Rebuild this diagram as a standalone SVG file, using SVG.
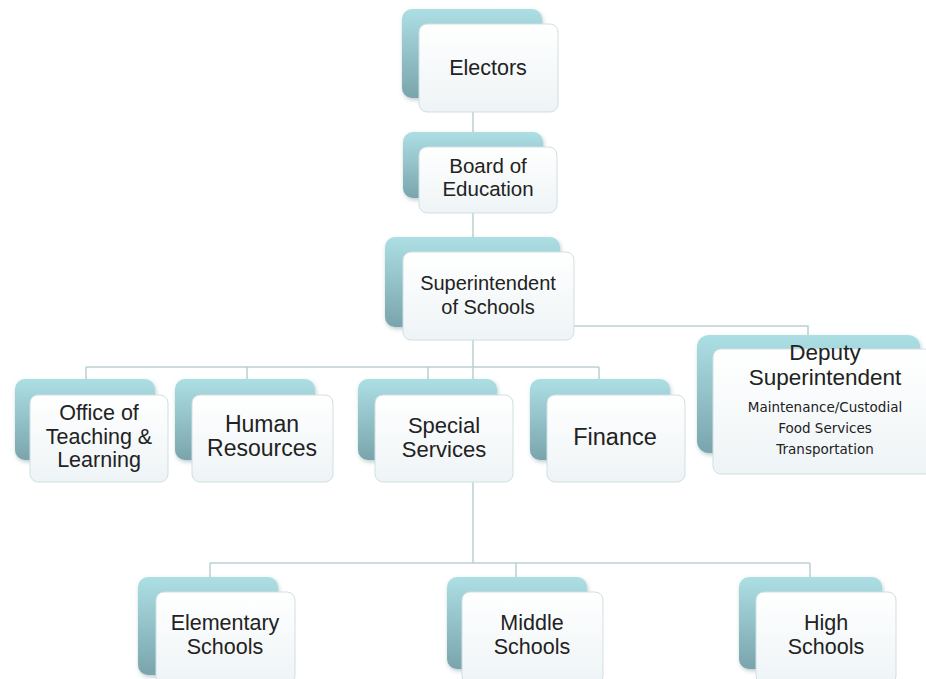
<svg xmlns="http://www.w3.org/2000/svg" width="926" height="679" viewBox="0 0 926 679">
<defs>
<linearGradient id="gb" x1="0" y1="0" x2="0" y2="1">
<stop offset="0" stop-color="#acdfe4"/>
<stop offset="1" stop-color="#7aa4ac"/>
</linearGradient>
<linearGradient id="gf" x1="0" y1="0" x2="0" y2="1">
<stop offset="0" stop-color="#ffffff"/>
<stop offset="1" stop-color="#eef4f6"/>
</linearGradient>
<filter id="sh" x="-10%" y="-10%" width="130%" height="130%">
<feDropShadow dx="1" dy="2" stdDeviation="2" flood-color="#6a8a90" flood-opacity="0.45"/>
</filter>
</defs>
<style>
.b{fill:url(#gb);filter:url(#sh)}
.f{fill:url(#gf);stroke:#cfdfe3;stroke-width:1}
.t{font-family:"Liberation Sans",Arial,sans-serif;fill:#222;text-anchor:middle}
.s{font-family:"DejaVu Sans",Verdana,sans-serif;fill:#222;text-anchor:middle;font-size:13.5px}
.c{fill:none;stroke:#bccfd2;stroke-width:1.5}
</style>
<rect width="926" height="679" fill="#ffffff"/>
<g id="connectors">
<path class="c" d="M473 112V132M473 213V237M473 340V563M86 367H599M86 367V379M247 367V379M428 367V379M599 367V379M574 326H808V335M210 563H810M210 563V577M516 563V577M810 563V577"/>
</g>
<g id="electors">
<rect class="b" x="402" y="9" width="140" height="89" rx="10"/>
<rect class="f" x="419" y="24" width="139" height="88" rx="8"/>
<text class="t" x="488" y="75" font-size="21.5">Electors</text>
</g>
<g id="board">
<rect class="b" x="403" y="132" width="140" height="66" rx="10"/>
<rect class="f" x="419" y="147" width="138" height="66" rx="8"/>
<text class="t" x="488" y="173" font-size="20.5">Board of</text>
<text class="t" x="488" y="196" font-size="20.5">Education</text>
</g>
<g id="superintendent">
<rect class="b" x="385" y="237" width="175" height="90" rx="10"/>
<rect class="f" x="403" y="252" width="171" height="88" rx="8"/>
<text class="t" x="488" y="290" font-size="20">Superintendent</text>
<text class="t" x="488" y="314" font-size="20">of Schools</text>
</g>
<g id="deputy">
<rect class="b" x="697" y="335" width="223" height="118" rx="12"/>
<rect class="f" x="713" y="349" width="220" height="125" rx="8"/>
<text class="t" x="825" y="360" font-size="22.5">Deputy</text>
<text class="t" x="825" y="385" font-size="22.5">Superintendent</text>
<text class="s" x="825" y="412">Maintenance/Custodial</text>
<text class="s" x="825" y="433">Food Services</text>
<text class="s" x="825" y="454">Transportation</text>
</g>
<g id="office">
<rect class="b" x="15" y="379" width="140" height="81" rx="10"/>
<rect class="f" x="30" y="395" width="138" height="87" rx="8"/>
<text class="t" x="99" y="420" font-size="21.5">Office of</text>
<text class="t" x="99" y="444" font-size="21.5">Teaching &amp;</text>
<text class="t" x="99" y="467" font-size="21.5">Learning</text>
</g>
<g id="hr">
<rect class="b" x="175" y="379" width="140" height="81" rx="10"/>
<rect class="f" x="192" y="395" width="141" height="87" rx="8"/>
<text class="t" x="262" y="432" font-size="23">Human</text>
<text class="t" x="262" y="456" font-size="23">Resources</text>
</g>
<g id="special">
<rect class="b" x="358" y="379" width="139" height="81" rx="10"/>
<rect class="f" x="375" y="395" width="138" height="87" rx="8"/>
<text class="t" x="444" y="433" font-size="22">Special</text>
<text class="t" x="444" y="457" font-size="22">Services</text>
</g>
<g id="finance">
<rect class="b" x="530" y="379" width="140" height="81" rx="10"/>
<rect class="f" x="547" y="395" width="138" height="87" rx="8"/>
<text class="t" x="615" y="445" font-size="23.5">Finance</text>
</g>
<g id="elementary">
<rect class="b" x="138" y="577" width="140" height="98" rx="10"/>
<rect class="f" x="156" y="592" width="139" height="92" rx="8"/>
<text class="t" x="225" y="630" font-size="21.5">Elementary</text>
<text class="t" x="225" y="654" font-size="21.5">Schools</text>
</g>
<g id="middle">
<rect class="b" x="447" y="577" width="140" height="92" rx="10"/>
<rect class="f" x="462" y="592" width="141" height="92" rx="8"/>
<text class="t" x="532" y="630" font-size="21.5">Middle</text>
<text class="t" x="532" y="654" font-size="21.5">Schools</text>
</g>
<g id="high">
<rect class="b" x="739" y="577" width="143" height="92" rx="10"/>
<rect class="f" x="756" y="592" width="140" height="92" rx="8"/>
<text class="t" x="826" y="630" font-size="21.5">High</text>
<text class="t" x="826" y="654" font-size="21.5">Schools</text>
</g>
</svg>
